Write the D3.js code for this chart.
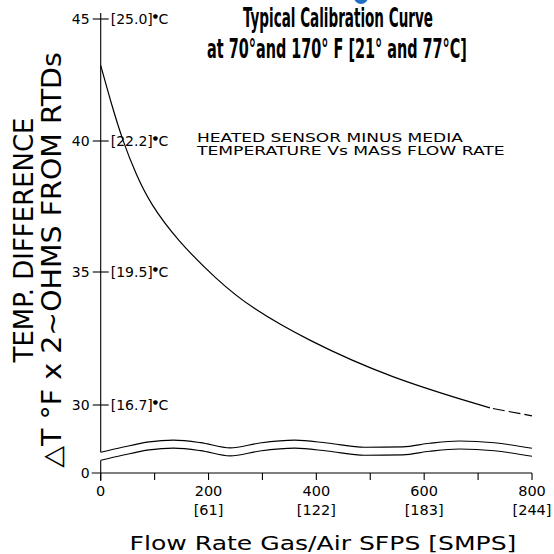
<!DOCTYPE html>
<html><head><meta charset="utf-8">
<script src="https://cdn.jsdelivr.net/npm/d3@7"></script>
<style>
html,body{margin:0;padding:0;background:#fff;}
svg{display:block;}
text{font-family:"DejaVu Sans",sans-serif;fill:#000;}
</style></head>
<body>
<svg id="chart" width="554" height="554"></svg>
<script>
// ---------- data ----------
const flowTicks = [0,100,200,300,400,500,600,700,800];
const flowLabels = [0,200,400,600,800];
const smpsLabels = ["", "[61]", "[122]", "[183]", "[244]"];
const dtTicks = [30,35,40,45];
const dtTickC = ["[16.7]", "[19.5]", "[22.2]", "[25.0]"];
const curveFlow = [0, 20, 41, 66, 91.4, 141.5, 215.7, 276.9, 382.6, 536.6, 722, 800];
const curveDT   = [43.1, 41.5, 40.0, 38.7, 37.63, 36.22, 34.70, 33.68, 32.44, 31.02, 29.89, 29.59];
const dashFrom = 722;
const waveFlow  = [0, 40, 90, 135, 185, 240, 295, 360, 420, 490, 560, 610, 665, 730, 800];
const waveUpper = [14.5, 18.0, 21.8, 23.0, 21.3, 17.6, 21.0, 23.0, 21.0, 18.0, 18.3, 20.8, 22.4, 21.2, 17.3];
const waveGap = 5.6;
const title = ["Typical Calibration Curve", "at 70\u00b0and 170\u00b0 F [21\u00b0 and 77\u00b0C]"];
const note = ["HEATED SENSOR MINUS MEDIA", "TEMPERATURE Vs MASS FLOW RATE"];
const yTitle = ["TEMP. DIFFERENCE", "\u25b3T \u00b0F x 2~OHMS FROM RTDs"];
const xTitle = "Flow Rate Gas/Air SFPS [SMPS]";

// ---------- layout ----------
const svg = d3.select("#chart");
const x = d3.scaleLinear().domain([0,800]).range([100.7,532]);
const y = d3.scaleLinear().domain([0,29,30,35,40,45]).range([473,431.6,405,272,141,19]);
const ink = "#000";

// helper: text squeezed horizontally to a target width (keeps real text)
function fitText(sel, cx, by, w, anchor, rot){
  const n = sel.node().getComputedTextLength();
  const s = w / n;
  sel.attr("text-anchor", anchor || "middle")
     .attr("transform", `translate(${cx},${by})` + (rot ? ` rotate(${rot})` : "") + ` scale(${s},1)`);
}

// blue dot (cropped element at top)
svg.append("circle").attr("cx",361).attr("cy",-3).attr("r",7).attr("fill","#1f6fc5");

// title
title.forEach((t,i)=>{
  const tt = svg.append("text")
    .style("font-family","'Liberation Sans Narrow','DejaVu Sans Condensed',sans-serif")
    .style("font-weight","bold").style("font-size","26px").text(t);
  fitText(tt, i===0?338:337, i===0?27:58, i===0?190:260);
});

// note
note.forEach((t,i)=>{
  const tt = svg.append("text").style("font-size","12px").text(t);
  fitText(tt, 197, 141.5+i*13.5, i===0?266:308, "start");
});

// y axis line (broken)
const g = svg.append("g").attr("stroke",ink).attr("stroke-width",1.1).attr("fill","none");
g.append("line").attr("x1",x(0)).attr("x2",x(0)).attr("y1",y(45)-6).attr("y2",y(waveUpper[0]));
g.append("line").attr("x1",x(0)).attr("x2",x(0)).attr("y1",y(waveUpper[0]-waveGap)).attr("y2",y(0)+8);
// y ticks
g.selectAll("line.yt").data(dtTicks).join("line").attr("class","yt")
  .attr("x1",x(0)-8).attr("x2",x(0)+8).attr("y1",d=>y(d)).attr("y2",d=>y(d));
// x axis
g.append("line").attr("x1",x(0)-9).attr("x2",x(800)).attr("y1",y(0)).attr("y2",y(0));
g.selectAll("line.xt").data(flowTicks).join("line").attr("class","xt")
  .attr("x1",d=>x(d)).attr("x2",d=>x(d)).attr("y1",y(0)).attr("y2",y(0)+7);

// wave break lines
const wl = d3.line().curve(d3.curveMonotoneX);
g.append("path").attr("d", wl(waveFlow.map((f,i)=>[x(f), y(waveUpper[i])])));
g.append("path").attr("d", wl(waveFlow.map((f,i)=>[x(f), y(waveUpper[i]-waveGap)])));

// curve
const pts = curveFlow.map((f,i)=>[f,curveDT[i]]);
const cl = d3.line().x(d=>x(d[0])).y(d=>y(d[1])).curve(d3.curveBasis);
g.append("path").attr("d", cl(pts.filter(p=>p[0]<=dashFrom))).attr("stroke-width",1.2);
g.append("path").attr("d", cl(pts.filter(p=>p[0]>=dashFrom))).attr("stroke-width",1.2)
  .attr("stroke-dasharray","12,4").attr("stroke-dashoffset",-3);

// y tick labels
svg.selectAll("text.yl").data([0].concat(dtTicks)).join("text").attr("class","yl")
  .attr("x",x(0)-11).attr("y",d=>y(d)+5).attr("text-anchor","end")
  .style("font-size","14px").text(d=>d);
const yc = svg.selectAll("text.yc").data(dtTicks).join("text").attr("class","yc")
  .attr("x",x(0)+10).attr("y",(d)=>y(d)+5).style("font-size","14px");
yc.append("tspan").text((d,i)=>dtTickC[i]);
yc.append("tspan").attr("dy",-6).style("font-size","6px").text("\u25cf");
yc.append("tspan").attr("dy",6).attr("dx",0.5).text("C");

// x tick labels
svg.selectAll("text.xl").data(flowLabels).join("text").attr("class","xl")
  .attr("x",d=>x(d)).attr("y",496).attr("text-anchor","middle")
  .style("font-size","14.5px").text(d=>d);
svg.selectAll("text.xs").data(flowLabels).join("text").attr("class","xs")
  .attr("x",d=>x(d)).attr("y",515).attr("text-anchor","middle")
  .style("font-size","14.5px").text((d,i)=>smpsLabels[i]);

// axis titles
fitText(svg.append("text").style("font-size","20px").text(xTitle), 323, 550, 387);
fitText(svg.append("text").style("font-size","26px").text(yTitle[0]), 33, 240, 245, "middle", -90);
fitText(svg.append("text").style("font-size","26px").text(yTitle[1]), 61, 260, 416, "middle", -90);
</script>
</body></html>
